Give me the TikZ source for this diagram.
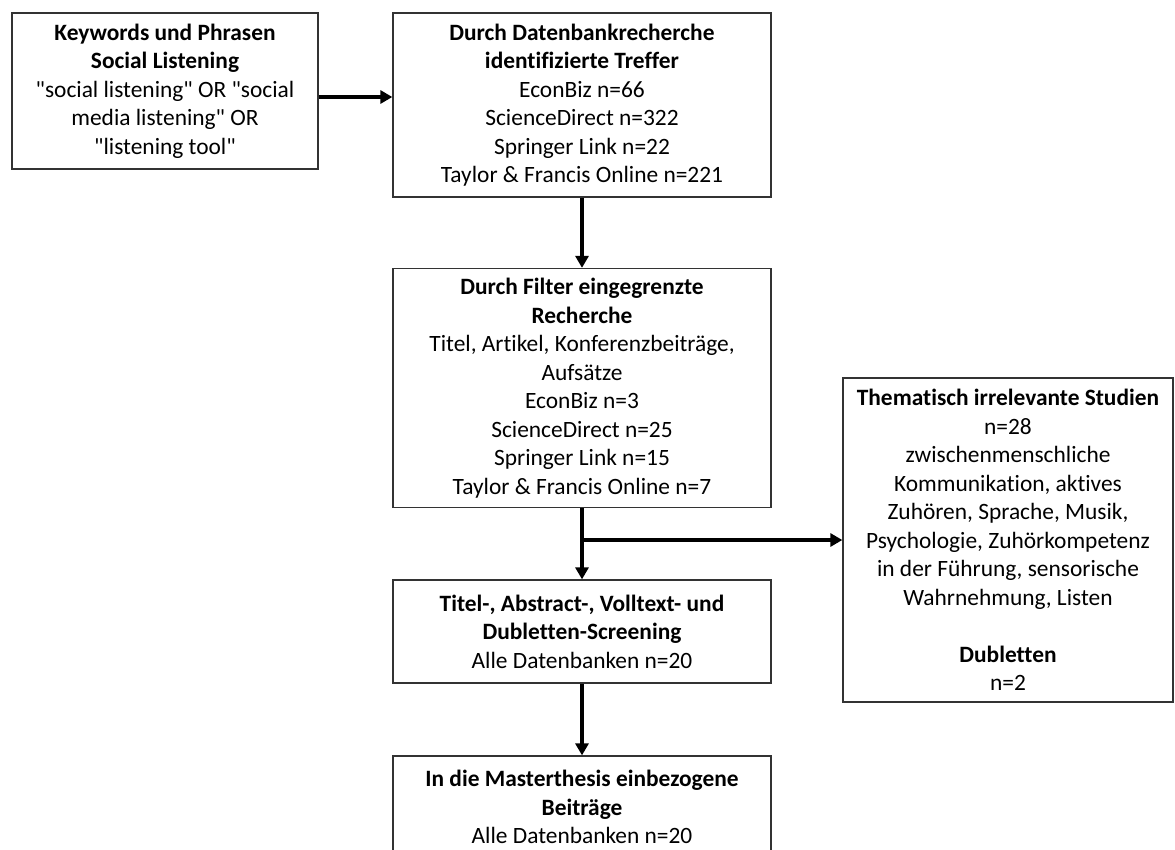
\documentclass[tikz,border=0pt]{standalone}
\usepackage{fontspec}
\setmainfont{Carlito}[Ligatures={TeXOff,NoCommon}]
\usetikzlibrary{arrows.meta}
\begin{document}
\begin{tikzpicture}[x=1pt,y=-1pt,
  box/.style={draw=black!80, line width=1.3pt, align=center, inner sep=0pt,
    font=\fontsize{23.4}{28.5}\selectfont, text=black},
  arr/.style={line width=3.2pt, -{Triangle[length=12pt,width=13pt]}}]
\useasboundingbox (0,0) rectangle (1175,849);
\clip (0,0) rectangle (1175,849);
\node[box, minimum width=306pt, minimum height=156pt] (b1) at (165,91)
  {\textbf{Keywords und Phrasen}\\\textbf{Social Listening}\\"social listening" OR "social\\media listening" OR\\"listening tool"};
\node[box, minimum width=378pt, minimum height=184pt] (b2) at (582,105)
  {\textbf{Durch Datenbankrecherche}\\\textbf{identifizierte Treffer}\\EconBiz n=66\\ScienceDirect n=322\\Springer Link n=22\\Taylor \& Francis Online n=221};
\node[box, minimum width=378pt, minimum height=239pt] (b3) at (582,388)
  {\textbf{Durch Filter eingegrenzte}\\\textbf{Recherche}\\Titel, Artikel, Konferenzbeiträge,\\Aufsätze\\EconBiz n=3\\ScienceDirect n=25\\Springer Link n=15\\Taylor \& Francis Online n=7};
\node[box, minimum width=378pt, minimum height=103pt] (b4) at (582,631.5)
  {\textbf{Titel-, Abstract-, Volltext- und}\\\textbf{Dubletten-Screening}\\Alle Datenbanken n=20};
\node[box, minimum width=378pt, minimum height=102pt] (b5) at (582,807)
  {\textbf{In die Masterthesis einbezogene}\\\textbf{Beiträge}\\Alle Datenbanken n=20};
\node[box, minimum width=330pt, minimum height=324pt] (b6) at (1008,540)
  {\textbf{Thematisch irrelevante Studien}\\n=28\\zwischenmenschliche\\Kommunikation, aktives\\Zuhören, Sprache, Musik,\\Psychologie, Zuhörkompetenz\\in der Führung, sensorische\\Wahrnehmung, Listen\\[28.5pt]\textbf{Dubletten}\\n=2};
\coordinate (j1) at ([yshift=-6pt]b1.east);
\draw[arr] (j1) -- (j1 -| b2.west);
\draw[arr] (b2.south) -- (b3.north);
\draw[arr] (b3.south) -- (b4.north);
\coordinate (j2) at (b3.south |- b6.west);
\draw[arr] (j2) -- (b6.west);
\draw[arr] (b4.south) -- (b5.north);
\end{tikzpicture}
\end{document}
